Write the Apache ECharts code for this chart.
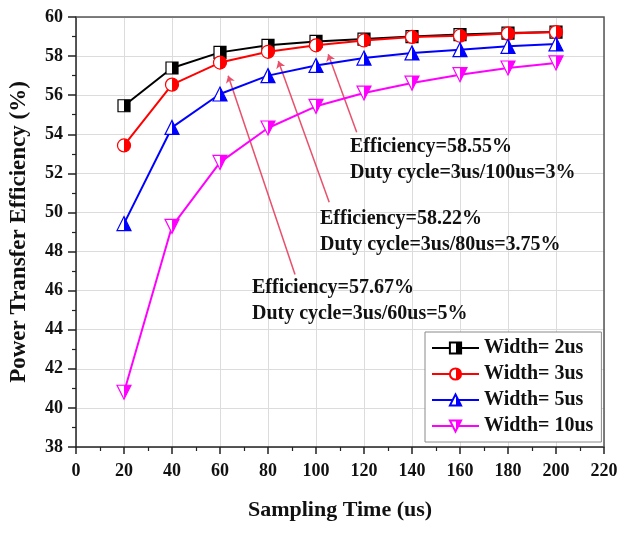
<!DOCTYPE html>
<html>
<head>
<meta charset="utf-8">
<script src="https://cdn.jsdelivr.net/npm/echarts@6/dist/echarts.min.js"></script>
<style>
  html, body { margin: 0; padding: 0; background: #fff; }
  #myChart { width: 632px; height: 533px; }
</style>
</head>
<body>
<div id="myChart"></div>
<script>
// sampling time (us)
const samplingTime = [20, 40, 60, 80, 100, 120, 140, 160, 180, 200]
// efficiency (%) per pulse width
const width2us = [55.46, 57.39, 58.19, 58.55, 58.75, 58.87, 59.0, 59.1, 59.18, 59.23]
const width3us = [53.43, 56.54, 57.67, 58.22, 58.55, 58.8, 58.98, 59.04, 59.15, 59.23]
const width5us = [49.43, 54.35, 56.06, 57.0, 57.52, 57.9, 58.16, 58.33, 58.5, 58.62]
const width10us = [40.8, 49.29, 52.56, 54.32, 55.43, 56.11, 56.62, 57.05, 57.39, 57.65]

const seriesNames = ['Width= 2us', 'Width= 3us', 'Width= 5us', 'Width= 10us']
const seriesColors = ['#000000', '#ff0000', '#0000ff', '#ff00ff']

// annotation text + arrow (tail -> tip, in data units)
const noteTexts = [
  'Efficiency=58.55%\nDuty cycle=3us/100us=3%',
  'Efficiency=58.22%\nDuty cycle=3us/80us=3.75%',
  'Efficiency=57.67%\nDuty cycle=3us/60us=5%',
]
const noteArrows = [
  [[116.96, 54.1], [105.1, 58.1]],
  [[105.5, 50.52], [84.3, 57.75]],
  [[91.25, 46.82], [63.4, 57.0]],
]

const FONT = "'Liberation Serif', 'Times New Roman', serif"

function halfFill(color) {
  // left half white, right half coloured
  return new echarts.graphic.LinearGradient(0, 0, 1, 0, [
    { offset: 0, color: '#ffffff' },
    { offset: 0.5, color: '#ffffff' },
    { offset: 0.5, color: color },
    { offset: 1, color: color },
  ])
}

const symbols = ['rect', 'circle', 'triangle', 'path://M0,0 L10,0 L5,9 Z']
const symbolSizes = [12, 13, 14, 14]
const values = [width2us, width3us, width5us, width10us]

let myChart = echarts.init(document.getElementById('myChart'))

let series = values.map((vals, i) => ({
  name: seriesNames[i],
  type: 'line',
  data: samplingTime.map((t, k) => [t, vals[k]]),
  symbol: symbols[i],
  symbolSize: symbolSizes[i],
  showAllSymbol: true,
  lineStyle: { color: seriesColors[i], width: 2 },
  itemStyle: {
    color: halfFill(seriesColors[i]),
    borderColor: seriesColors[i],
    borderWidth: 1.2,
  },
  emphasis: { disabled: true },
  z: 3 + i,
}))

// red arrows pointing at the 3us points
series[1].markLine = {
  silent: true,
  symbol: ['none', 'arrow'],
  symbolSize: 7,
  label: { show: false },
  lineStyle: { color: '#e8506c', width: 1.5, type: 'solid' },
  data: noteArrows.map((a) => [{ coord: a[0] }, { coord: a[1] }]),
}

const notePos = [
  [350, 134],
  [320, 206],
  [252, 275],
]

let option = {
  animation: false,
  grid: { left: 76, right: 28, top: 17, bottom: 86 },
  legend: {
    orient: 'vertical',
    left: 425,
    top: 332,
    padding: [6, 8, 6, 6],
    itemWidth: 47,
    itemHeight: 14,
    itemGap: 6,
    backgroundColor: '#fff',
    borderColor: '#8a8a8a',
    borderWidth: 1,
    borderRadius: 0,
    textStyle: { fontFamily: FONT, fontWeight: 'bold', fontSize: 20, color: '#111' },
    data: seriesNames,
  },
  xAxis: {
    type: 'value',
    min: 0,
    max: 220,
    interval: 20,
    name: 'Sampling Time (us)',
    nameLocation: 'middle',
    nameGap: 52,
    nameTextStyle: { fontFamily: FONT, fontWeight: 'bold', fontSize: 22, color: '#111' },
    axisLine: { show: true, onZero: false, lineStyle: { color: '#222', width: 1.5 } },
    axisTick: { show: true, length: 7, lineStyle: { color: '#222', width: 1.5 } },
    minorTick: { show: true, splitNumber: 2, length: 4, lineStyle: { color: '#222', width: 1.2 } },
    axisLabel: { fontFamily: FONT, fontWeight: 'bold', fontSize: 18, color: '#111', margin: 15 },
    splitLine: { show: true, lineStyle: { color: '#dcdcdc', width: 1 } },
  },
  yAxis: {
    type: 'value',
    min: 38,
    max: 60,
    interval: 2,
    name: 'Power Transfer Efficiency (%)',
    nameLocation: 'middle',
    nameGap: 45,
    nameTextStyle: { fontFamily: FONT, fontWeight: 'bold', fontSize: 23, color: '#111' },
    axisLine: { show: true, onZero: false, lineStyle: { color: '#222', width: 1.5 } },
    axisTick: { show: true, length: 8, lineStyle: { color: '#222', width: 1.5 } },
    minorTick: { show: true, splitNumber: 2, length: 4, lineStyle: { color: '#222', width: 1.2 } },
    axisLabel: { fontFamily: FONT, fontWeight: 'bold', fontSize: 18, color: '#111', margin: 13 },
    splitLine: { show: true, lineStyle: { color: '#dcdcdc', width: 1 } },
  },
  graphic: [
    // top and right frame of the plot box
    {
      type: 'polyline',
      shape: { points: [[76, 17], [604, 17], [604, 447]] },
      style: { stroke: '#555', lineWidth: 1.5, fill: null },
      silent: true,
      z: 1,
    },
    ...noteTexts.map((t, i) => ({
      type: 'text',
      left: notePos[i][0],
      top: notePos[i][1],
      silent: true,
      z: 10,
      style: {
        text: t,
        fontFamily: FONT,
        fontWeight: 'bold',
        fontSize: 20,
        lineHeight: 26,
        fill: '#111',
      },
    })),
  ],
  series: series,
}

myChart.setOption(option, true)
</script>
</body>
</html>
